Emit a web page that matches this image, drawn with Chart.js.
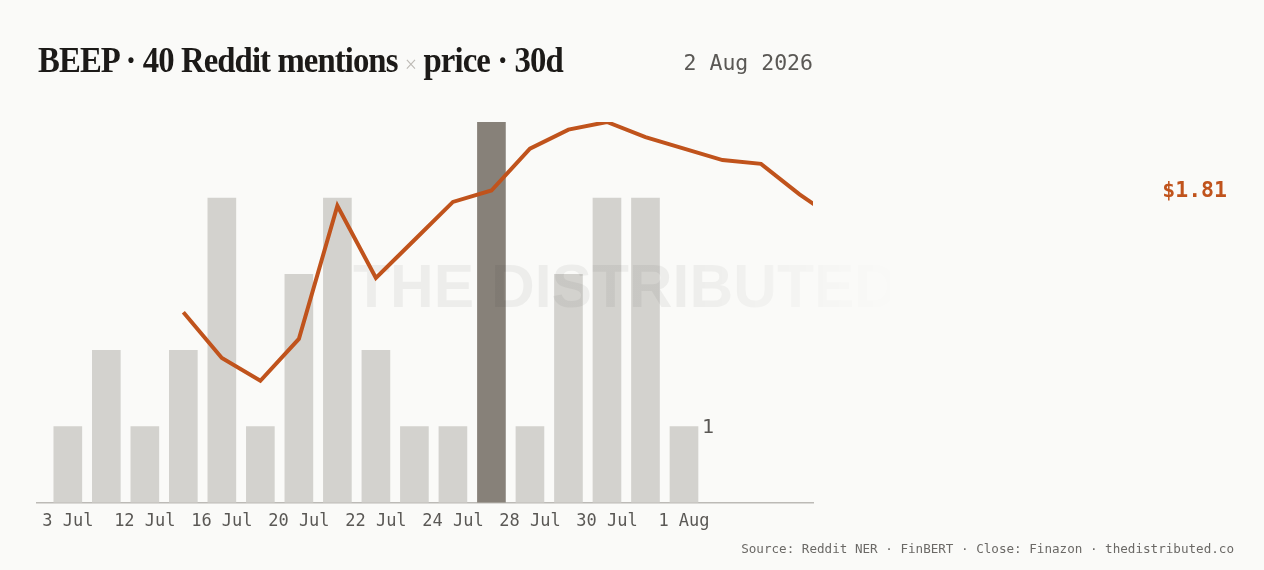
<!DOCTYPE html>
<html>
<head>
<meta charset="utf-8">
<script src="https://cdn.jsdelivr.net/npm/chart.js@4.4.1/dist/chart.umd.min.js"></script>
<style>
  html, body { margin: 0; padding: 0; background: #fafaf8; }
  #wrap { position: relative; width: 1264px; height: 570px; overflow: hidden; }
  #chart { position: absolute; left: 0; top: 0; }
  .title {
    position: absolute; left: 38px; top: 39px;
    font-family: "Liberation Serif", serif; font-weight: bold;
    font-size: 36px; letter-spacing: -1px; color: #1c1a18; white-space: nowrap;
    transform: scaleX(0.91); transform-origin: left top;
  }
  .title .x { color: #bdbab5; font-weight: normal; font-size: 24px; }
  .date {
    position: absolute; right: 451px; top: 50px;
    font-family: "DejaVu Sans Mono", monospace; font-size: 21.5px; color: #5a5855;
  }
  .source {
    position: absolute; right: 30px; top: 541px;
    font-family: "DejaVu Sans Mono", monospace; font-size: 12.6px; color: #6b6966;
  }
</style>
</head>
<body>
<div id="wrap">
  <canvas id="chart" width="1264" height="570"></canvas>
  <div class="title">BEEP · 40 Reddit mentions <span class="x">×</span> price · 30d</div>
  <div class="date">2 Aug 2026</div>
  <div class="source">Source: Reddit NER · FinBERT · Close: Finazon · thedistributed.co</div>
</div>
<script>
// mentions per active day (bar index 0..16)
const mentions = [1, 2, 1, 2, 4, 1, 3, 4, 2, 1, 1, 5, 1, 3, 4, 4, 1];
// closing price, starting at bar index 3
const priceStart = 3;
const prices = [1.50, 1.38, 1.32, 1.43, 1.78, 1.59, 1.69, 1.79, 1.82, 1.93, 1.98, 2.00, 1.96, 1.93, 1.90, 1.89, 1.81, 1.74];
const tickLabels = ["3 Jul", "12 Jul", "16 Jul", "20 Jul", "22 Jul", "24 Jul", "28 Jul", "30 Jul", "1 Aug"];
const peakIndex = 11;
const lastPrice = 1.81;

const barData = mentions.map((v, i) => ({ x: i, y: v }));
const lineData = prices.map((v, i) => ({ x: priceStart + i, y: v }));
const barColors = mentions.map((v, i) => i === peakIndex ? "#878179" : "#d3d2ce");

const watermark = {
  id: "watermark",
  beforeDatasetDraw(chart, args) {
    if (args.index !== 1) return;
    const ctx = chart.ctx;
    ctx.save();
    ctx.font = "bold 62px 'Liberation Sans', sans-serif";
    ctx.textBaseline = "alphabetic";
    const text = "THE DISTRIBUTED";
    const w = ctx.measureText(text).width;
    ctx.translate(353, 307);
    ctx.scale(545 / w, 1);
    const g = ctx.createLinearGradient(0, 0, w, 0);
    g.addColorStop(0, "rgba(0,0,0,0.05)");
    g.addColorStop(0.6, "rgba(0,0,0,0.05)");
    g.addColorStop(1, "rgba(0,0,0,0.0)");
    ctx.fillStyle = g;
    ctx.fillText(text, 0, 0);
    ctx.restore();
  }
};

const labels = {
  id: "labels",
  afterDatasetsDraw(chart) {
    const ctx = chart.ctx;
    const meta = chart.getDatasetMeta(0);
    const last = meta.data[meta.data.length - 1];
    ctx.save();
    ctx.font = "20px 'DejaVu Sans Mono', monospace";
    ctx.fillStyle = "#5a5855";
    ctx.textAlign = "left";
    ctx.textBaseline = "middle";
    ctx.fillText(String(mentions[mentions.length - 1]), last.x + last.width / 2 + 4, last.y + 1);
    ctx.font = "bold 21.5px 'DejaVu Sans Mono', monospace";
    ctx.fillStyle = "#c0531c";
    ctx.textAlign = "right";
    ctx.fillText("$" + lastPrice.toFixed(2), 1227, chart.scales.y2.getPixelForValue(lastPrice) - 3);
    ctx.restore();
  }
};

new Chart(document.getElementById("chart"), {
  type: "bar",
  data: {
    datasets: [{
      type: "bar",
      data: barData,
      backgroundColor: barColors,
      barThickness: 28,
      order: 2,
      yAxisID: "y"
    }, {
      type: "line",
      data: lineData,
      borderColor: "#c0531c",
      borderWidth: 4,
      pointRadius: 0,
      tension: 0,
      order: 1,
      yAxisID: "y2"
    }]
  },
  options: {
    responsive: false,
    animation: false,
    layout: { padding: { left: 37, right: 451, top: 122, bottom: 29 } },
    plugins: { legend: { display: false }, tooltip: { enabled: false } },
    scales: {
      x: {
        type: "linear",
        offset: false,
        min: -0.8,
        max: 19.35,
        grid: { display: false, drawTicks: false },
        border: { color: "#bcbab6", width: 1.5 },
        afterBuildTicks(axis) {
          axis.ticks = tickLabels.map((t, i) => ({ value: i * 2 }));
        },
        ticks: {
          autoSkip: false,
          maxRotation: 0,
          padding: 9,
          color: "#5a5855",
          font: { family: "'DejaVu Sans Mono', monospace", size: 17 },
          callback: (v) => tickLabels[v / 2]
        }
      },
      y: { display: false, min: 0, max: 5 },
      y2: { display: false, min: 1.0, max: 2.0 }
    }
  },
  plugins: [watermark, labels]
});
</script>
</body>
</html>
